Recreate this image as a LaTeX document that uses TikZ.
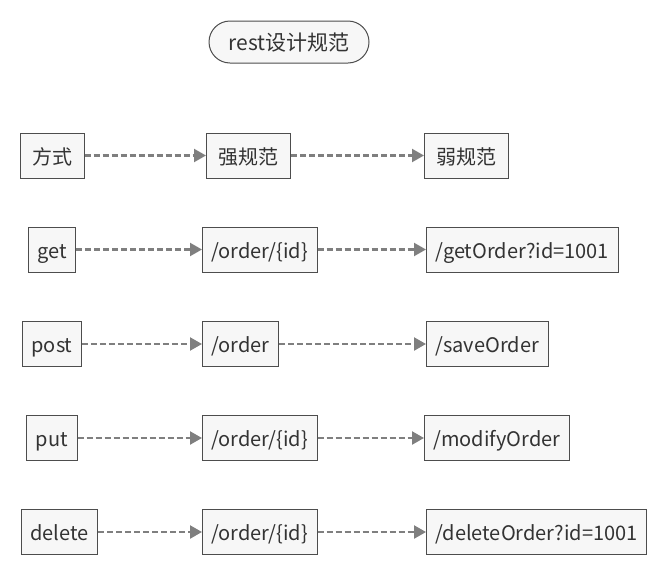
\documentclass[tikz,border=0pt]{standalone}
\usepackage{fontspec}
\setmainfont{Noto Sans CJK SC}
\usetikzlibrary{arrows.meta}
\definecolor{boxfill}{HTML}{F7F7F7}
\definecolor{boxline}{HTML}{4D4D4D}
\definecolor{flowgray}{HTML}{7F7F7F}
\begin{document}
\begin{tikzpicture}[x=1pt, y=-1pt,
    cell/.style={draw=boxline, fill=boxfill, line width=1pt, minimum height=45pt, inner xsep=9pt,
        text height=17pt, text depth=0pt, text=black!80, font=\fontsize{20}{24}\selectfont},
    head/.style={cell, inner xsep=12pt},
    flow/.style={draw=flowgray, line width=2.2pt, dash pattern=on 6pt off 3pt,
        -{Triangle[length=12pt, width=13pt, fill=flowgray]}}]
    \useasboundingbox (0,0) rectangle (660,576);

    % Title
    \node[cell, rounded corners=21pt, minimum width=160pt, minimum height=42pt,
        font=\fontsize{21}{25}\selectfont] (title) at (289,42) {rest设计规范};

    % Header row
    \node[head] (way) at (52,155.5) {方式};
    \node[head, anchor=west] (strong) at (206,155.5) {强规范};
    \node[head, anchor=west] (weak) at (424,155.5) {弱规范};
    \draw[flow] (way) -- (strong);
    \draw[flow] (strong) -- (weak);

    % get
    \node[cell] (get) at (52,249.5) {get};
    \node[cell, anchor=west] (getstrong) at (202,249.5) {/order/\{id\}};
    \node[cell, anchor=west] (getweak) at (426,249.5) {/getOrder?id=1001};
    \draw[flow] (get) -- (getstrong);
    \draw[flow] (getstrong) -- (getweak);

    % post
    \node[cell] (post) at (52,344) {post};
    \node[cell, anchor=west] (poststrong) at (202,344) {/order};
    \node[cell, anchor=west] (postweak) at (426,344) {/saveOrder};
    \draw[flow] (post) -- (poststrong);
    \draw[flow] (poststrong) -- (postweak);

    % put
    \node[cell] (put) at (52,438) {put};
    \node[cell, anchor=west] (putstrong) at (202,438) {/order/\{id\}};
    \node[cell, anchor=west] (putweak) at (424,438) {/modifyOrder};
    \draw[flow] (put) -- (putstrong);
    \draw[flow] (putstrong) -- (putweak);

    % delete
    \node[cell] (delete) at (59.5,532) {delete};
    \node[cell, anchor=west] (deletestrong) at (202,532) {/order/\{id\}};
    \node[cell, anchor=west] (deleteweak) at (426,532) {/deleteOrder?id=1001};
    \draw[flow] (delete) -- (deletestrong);
    \draw[flow] (deletestrong) -- (deleteweak);
\end{tikzpicture}
\end{document}
